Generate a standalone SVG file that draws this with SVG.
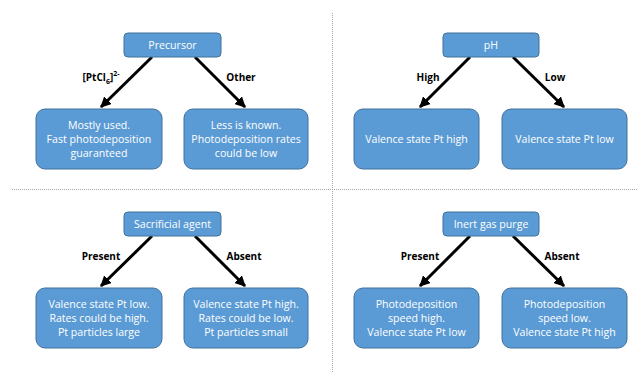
<svg xmlns="http://www.w3.org/2000/svg" width="639" height="388" viewBox="0 0 639 388">
<defs>
<marker id="ah" viewBox="0 0 10 10" refX="9" refY="5" markerWidth="3.6" markerHeight="3.6" orient="auto" markerUnits="strokeWidth">
<path d="M0,0 L10,5 L0,10 z" fill="#000"/>
</marker>
</defs>
<style>
.box{fill:#5b9bd5;stroke:#41719c;stroke-width:1}
.t{font-family:"Open Sans","Liberation Sans",sans-serif;font-size:10.6px;fill:#fff;text-anchor:middle}
.lbl{font-family:"Open Sans","Liberation Sans",sans-serif;font-size:10px;font-weight:bold;fill:#000;text-anchor:middle}
.arr{stroke:#000;stroke-width:3;fill:none;marker-end:url(#ah)}
.div{stroke:#a6a6a6;stroke-width:1;stroke-dasharray:1 1;fill:none}
</style>
<rect width="639" height="388" fill="#fff"/>
<g id="dividers">
<line class="div" x1="12" y1="189.5" x2="638" y2="189.5"/>
<line class="div" x1="332.5" y1="13" x2="332.5" y2="373"/>
</g>
<g id="connectors">
<line class="arr" x1="152" y1="57" x2="101" y2="107"/>
<line class="arr" x1="195" y1="57" x2="245" y2="107"/>
<line class="arr" x1="470" y1="57" x2="420" y2="107"/>
<line class="arr" x1="513" y1="57" x2="564" y2="107"/>
<line class="arr" x1="152" y1="236" x2="101" y2="286"/>
<line class="arr" x1="195" y1="236" x2="245" y2="286"/>
<line class="arr" x1="470" y1="236" x2="420" y2="286"/>
<line class="arr" x1="513" y1="236" x2="564" y2="286"/>
<text class="lbl" x="101" y="81">[PtCl<tspan font-size="7" dy="3">6</tspan><tspan dy="-3">]</tspan><tspan font-size="7" dy="-5">2-</tspan></text>
<text class="lbl" x="241" y="81">Other</text>
<text class="lbl" x="428" y="81">High</text>
<text class="lbl" x="555" y="81">Low</text>
<text class="lbl" x="101" y="260">Present</text>
<text class="lbl" x="244" y="260">Absent</text>
<text class="lbl" x="420" y="260">Present</text>
<text class="lbl" x="562" y="260">Absent</text>
</g>
<g id="precursor"><rect class="box" x="124" y="33" width="97" height="24" rx="4"/><text class="t" x="172.5" y="49">Precursor</text></g>
<g id="mostly-used"><rect class="box" x="36" y="109" width="126" height="60" rx="9"/><text class="t" x="99" y="129">Mostly used.</text><text class="t" x="99" y="143">Fast photodeposition</text><text class="t" x="99" y="157">guaranteed</text></g>
<g id="less-known"><rect class="box" x="184" y="109" width="124" height="60" rx="9"/><text class="t" x="246" y="129">Less is known.</text><text class="t" x="246" y="143">Photodeposition rates</text><text class="t" x="246" y="157">could be low</text></g>
<g id="ph"><rect class="box" x="443" y="33" width="96" height="24" rx="4"/><text class="t" x="491" y="49">pH</text></g>
<g id="ph-high"><rect class="box" x="354" y="109" width="125" height="60" rx="9"/><text class="t" x="416.5" y="143">Valence state Pt high</text></g>
<g id="ph-low"><rect class="box" x="502" y="109" width="125" height="60" rx="9"/><text class="t" x="564.5" y="143">Valence state Pt low</text></g>
<g id="sacrificial"><rect class="box" x="124" y="212" width="97" height="24" rx="4"/><text class="t" x="172.5" y="228">Sacrificial agent</text></g>
<g id="sac-present"><rect class="box" x="36" y="288" width="126" height="60" rx="9"/><text class="t" x="99" y="308">Valence state Pt low.</text><text class="t" x="99" y="322">Rates could be high.</text><text class="t" x="99" y="336">Pt particles large</text></g>
<g id="sac-absent"><rect class="box" x="184" y="288" width="124" height="60" rx="9"/><text class="t" x="246" y="308">Valence state Pt high.</text><text class="t" x="246" y="322">Rates could be low.</text><text class="t" x="246" y="336">Pt particles small</text></g>
<g id="inert"><rect class="box" x="443" y="212" width="96" height="24" rx="4"/><text class="t" x="491" y="228">Inert gas purge</text></g>
<g id="inert-present"><rect class="box" x="354" y="288" width="125" height="60" rx="9"/><text class="t" x="416.5" y="308">Photodeposition</text><text class="t" x="416.5" y="322">speed high.</text><text class="t" x="416.5" y="336">Valence state Pt low</text></g>
<g id="inert-absent"><rect class="box" x="502" y="288" width="125" height="60" rx="9"/><text class="t" x="564.5" y="308">Photodeposition</text><text class="t" x="564.5" y="322">speed low.</text><text class="t" x="564.5" y="336">Valence state Pt high</text></g>
</svg>
